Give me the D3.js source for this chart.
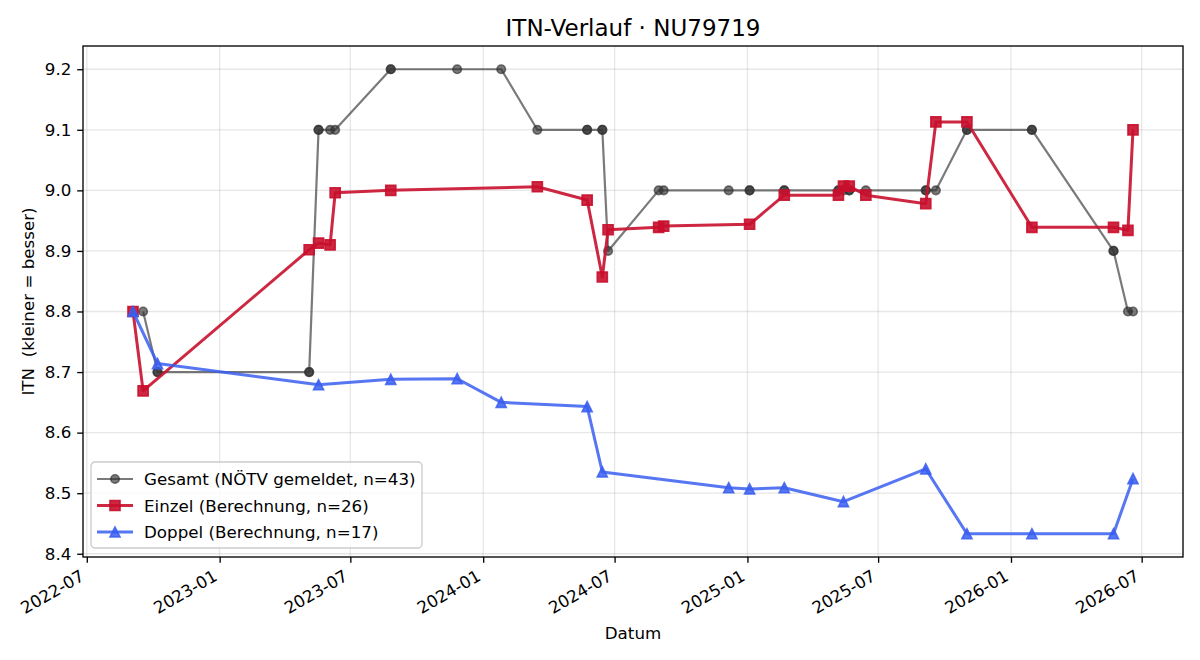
<!DOCTYPE html>
<html>
<head>
<meta charset="utf-8">
<script src="https://cdn.jsdelivr.net/npm/d3@7"></script>
<style>
  body { margin: 0; background: #fff; }
  svg text { font-family: "DejaVu Sans", sans-serif; fill: #000; }
  .grid line { stroke: #b0b0b0; stroke-opacity: 0.3; stroke-width: 1.33; }
  .axis .domain { display: none; }
  .axis line { stroke: #000; stroke-width: 1.33; }
</style>
</head>
<body>
<svg id="chart"></svg>
<script>
// Gesamt (NÖTV gemeldet) - several results share one date
const gesamtDates = [
  '2022-09-17', '2022-10-07', '2022-10-07', '2023-05-05', '2023-05-05', '2023-05-18', '2023-05-18',
  '2023-06-03', '2023-06-10', '2023-08-26', '2023-08-26', '2023-11-26', '2024-01-26', '2024-03-16',
  '2024-05-24', '2024-05-24', '2024-06-14', '2024-06-14', '2024-06-22', '2024-08-31', '2024-09-07',
  '2024-12-06', '2025-01-04', '2025-01-04', '2025-02-21', '2025-02-21', '2025-05-07', '2025-05-07',
  '2025-05-14', '2025-05-22', '2025-05-22', '2025-06-14', '2025-09-05', '2025-09-05', '2025-09-19',
  '2025-11-01', '2025-11-01', '2026-01-30', '2026-01-30', '2026-05-23', '2026-05-23', '2026-06-12',
  '2026-06-19'
];
const gesamtValues = [
  8.8, 8.7, 8.7, 8.7, 8.7, 9.1, 9.1,
  9.1, 9.1, 9.2, 9.2, 9.2, 9.2, 9.1,
  9.1, 9.1, 9.1, 9.1, 8.9, 9.0, 9.0,
  9.0, 9.0, 9.0, 9.0, 9.0, 9.0, 9.0,
  9.0, 9.0, 9.0, 9.0, 9.0, 9.0, 9.0,
  9.1, 9.1, 9.1, 9.1, 8.9, 8.9, 8.8,
  8.8
];

// Einzel (Berechnung)
const einzelDates = [
  '2022-09-03', '2022-09-17', '2023-05-05', '2023-05-18', '2023-06-03', '2023-06-10', '2023-08-26',
  '2024-03-16', '2024-05-24', '2024-06-14', '2024-06-22', '2024-08-31', '2024-09-07', '2025-01-04',
  '2025-02-21', '2025-05-07', '2025-05-14', '2025-05-22', '2025-06-14', '2025-09-05', '2025-09-19',
  '2025-11-01', '2026-01-30', '2026-05-23', '2026-06-12', '2026-06-19'
];
const einzelValues = [
  8.800, 8.669, 8.902, 8.913, 8.910, 8.996, 9.000,
  9.006, 8.984, 8.857, 8.935, 8.939, 8.941, 8.944,
  8.992, 8.992, 9.007, 9.007, 8.992, 8.978, 9.113,
  9.113, 8.939, 8.939, 8.934, 9.100
];

// Doppel (Berechnung)
const doppelDates = [
  '2022-09-03', '2022-10-07', '2023-05-18', '2023-08-26', '2023-11-26', '2024-01-26', '2024-05-24',
  '2024-06-14', '2024-12-06', '2025-01-04', '2025-02-21', '2025-05-14', '2025-09-05', '2025-11-01',
  '2026-01-30', '2026-05-23', '2026-06-19'
];
const doppelValues = [
  8.800, 8.714, 8.679, 8.688, 8.689, 8.650, 8.643,
  8.535, 8.509, 8.507, 8.509, 8.486, 8.540, 8.433,
  8.433, 8.433, 8.524
];

const yTicks = [8.4, 8.5, 8.6, 8.7, 8.8, 8.9, 9.0, 9.1, 9.2];

const parseDate = d3.timeParse('%Y-%m-%d');

class ItnChart {

  constructor(_config, _series) {
    this.config = {
      parentElement: _config.parentElement,
      containerWidth: _config.containerWidth || 1200,
      containerHeight: _config.containerHeight || 660,
      margin: _config.margin || { top: 46, right: 17, bottom: 103, left: 83 }
    };
    this.series = _series;
    this.initVis();
  }

  initVis() {
    let vis = this;

    vis.width = vis.config.containerWidth - vis.config.margin.left - vis.config.margin.right;
    vis.height = vis.config.containerHeight - vis.config.margin.top - vis.config.margin.bottom;

    vis.svg = d3.select(vis.config.parentElement)
        .attr('width', vis.config.containerWidth)
        .attr('height', vis.config.containerHeight);

    vis.chart = vis.svg.append('g')
        .attr('transform', `translate(${vis.config.margin.left},${vis.config.margin.top})`);

    vis.xScale = d3.scaleTime().range([0, vis.width]);
    vis.yScale = d3.scaleLinear().range([vis.height, 0]);

    vis.gridG = vis.chart.append('g').attr('class', 'grid');
    vis.xAxisG = vis.chart.append('g')
        .attr('class', 'axis x-axis')
        .attr('transform', `translate(0,${vis.height})`);
    vis.yAxisG = vis.chart.append('g').attr('class', 'axis y-axis');
    vis.linesG = vis.chart.append('g');

    // Title and axis titles
    vis.svg.append('text')
        .attr('x', vis.config.margin.left + vis.width / 2)
        .attr('y', 36)
        .attr('text-anchor', 'middle')
        .style('font-size', '23px')
        .text('ITN-Verlauf · NU79719');

    vis.svg.append('text')
        .attr('x', vis.config.margin.left + vis.width / 2)
        .attr('y', 639)
        .attr('text-anchor', 'middle')
        .style('font-size', '16.7px')
        .text('Datum');

    vis.svg.append('text')
        .attr('transform', `translate(34,${vis.config.margin.top + vis.height / 2}) rotate(-90)`)
        .attr('text-anchor', 'middle')
        .style('font-size', '16.7px')
        .style('white-space', 'pre')
        .text('ITN  (kleiner = besser)');
  }

  updateVis() {
    let vis = this;

    // 5% padding around the data, like the original plot
    let allDates = vis.series.flatMap(s => s.data.map(d => d.date));
    let allValues = vis.series.flatMap(s => s.data.map(d => d.value));
    let [x0, x1] = d3.extent(allDates);
    let [y0, y1] = d3.extent(allValues);
    let xPad = (x1 - x0) * 0.05;
    let yPad = (y1 - y0) * 0.05;
    vis.xScale.domain([new Date(+x0 - xPad), new Date(+x1 + xPad)]);
    vis.yScale.domain([y0 - yPad, y1 + yPad]);

    vis.renderVis();
  }

  renderVis() {
    let vis = this;
    let xTicks = vis.xScale.ticks(d3.timeMonth.every(6));

    // grid
    vis.gridG.selectAll('.gx')
        .data(xTicks)
      .join('line')
        .attr('class', 'gx')
        .attr('x1', d => vis.xScale(d)).attr('x2', d => vis.xScale(d))
        .attr('y1', 0).attr('y2', vis.height);
    vis.gridG.selectAll('.gy')
        .data(yTicks)
      .join('line')
        .attr('class', 'gy')
        .attr('y1', d => vis.yScale(d)).attr('y2', d => vis.yScale(d))
        .attr('x1', 0).attr('x2', vis.width);

    // axes
    vis.xAxisG.call(d3.axisBottom(vis.xScale)
        .tickValues(xTicks)
        .tickFormat(d3.timeFormat('%Y-%m'))
        .tickSize(5.8));
    vis.xAxisG.selectAll('text')
        .attr('x', 0).attr('y', 0).attr('dy', null)
        .attr('text-anchor', 'end')
        .attr('transform', 'translate(-1.8,22.5) rotate(-30)')
        .style('font-size', '16.7px');

    vis.yAxisG.call(d3.axisLeft(vis.yScale)
        .tickValues(yTicks)
        .tickFormat(d3.format('.1f'))
        .tickSize(5.8)
        .tickPadding(5.8));
    vis.yAxisG.selectAll('text').style('font-size', '16.7px');
    vis.chart.selectAll('.axis').attr('font-family', null).attr('font-size', null);

    // series
    let line = d3.line()
        .x(d => vis.xScale(d.date))
        .y(d => vis.yScale(d.value));

    let groups = vis.linesG.selectAll('.series')
        .data(vis.series)
      .join('g')
        .attr('class', 'series');

    groups.append('path')
        .attr('d', s => line(s.data))
        .attr('fill', 'none')
        .attr('stroke', s => s.color)
        .attr('stroke-opacity', s => s.alpha)
        .attr('stroke-width', s => s.lineWidth)
        .attr('stroke-linejoin', 'round');

    groups.each(function(s) {
      d3.select(this).selectAll('.marker')
          .data(s.data)
        .join('path')
          .attr('class', 'marker')
          .attr('d', markerPath(s.marker, s.markerSize / 2))
          .attr('transform', d => `translate(${vis.xScale(d.date)},${vis.yScale(d.value)})`)
          .attr('fill', s.color)
          .attr('fill-opacity', s.alpha)
          .attr('stroke', s.color)
          .attr('stroke-opacity', s.alpha)
          .attr('stroke-width', 1.67);
    });

    // frame
    vis.chart.append('rect')
        .attr('width', vis.width)
        .attr('height', vis.height)
        .attr('fill', 'none')
        .attr('stroke', '#000')
        .attr('stroke-width', 1.33);

    // legend
    let legend = vis.chart.append('g').attr('transform', `translate(8,${vis.height - 95})`);
    legend.append('rect')
        .attr('width', 331).attr('height', 86)
        .attr('rx', 4)
        .attr('fill', '#fff').attr('fill-opacity', 0.8)
        .attr('stroke', '#ccc').attr('stroke-width', 1.33);

    let items = legend.selectAll('.item')
        .data(vis.series)
      .join('g')
        .attr('class', 'item')
        .attr('transform', (d, i) => `translate(0,${17 + i * 26.5})`);

    items.append('line')
        .attr('x1', 6).attr('x2', 42)
        .attr('stroke', s => s.color)
        .attr('stroke-opacity', s => s.alpha)
        .attr('stroke-width', s => s.lineWidth);
    items.append('path')
        .attr('d', s => markerPath(s.marker, s.markerSize / 2))
        .attr('transform', 'translate(24,0)')
        .attr('fill', s => s.color)
        .attr('fill-opacity', s => s.alpha)
        .attr('stroke', s => s.color)
        .attr('stroke-opacity', s => s.alpha)
        .attr('stroke-width', 1.67);
    items.append('text')
        .attr('x', 53)
        .attr('dy', '0.36em')
        .style('font-size', '16.7px')
        .text(s => s.label);
  }
}

function markerPath(type, r) {
  if (type === 'square') return `M${-r},${-r}H${r}V${r}H${-r}Z`;
  if (type === 'triangle') return `M0,${-r}L${r},${r}L${-r},${r}Z`;
  return d3.arc()({ innerRadius: 0, outerRadius: r, startAngle: 0, endAngle: 2 * Math.PI });
}

function toPoints(dates, values) {
  return dates.map((d, i) => ({ date: parseDate(d), value: values[i] }));
}

const series = [
  { label: `Gesamt (NÖTV gemeldet, n=${gesamtValues.length})`, data: toPoints(gesamtDates, gesamtValues),
    color: '#333333', alpha: 0.65, lineWidth: 2.2, marker: 'circle', markerSize: 8.5 },
  { label: `Einzel (Berechnung, n=${einzelValues.length})`, data: toPoints(einzelDates, einzelValues),
    color: '#c8102e', alpha: 0.9, lineWidth: 3, marker: 'square', markerSize: 10 },
  { label: `Doppel (Berechnung, n=${doppelValues.length})`, data: toPoints(doppelDates, doppelValues),
    color: '#3a5ef0', alpha: 0.85, lineWidth: 3, marker: 'triangle', markerSize: 10 }
];

const chart = new ItnChart({ parentElement: '#chart' }, series);
chart.updateVis();
</script>
</body>
</html>
